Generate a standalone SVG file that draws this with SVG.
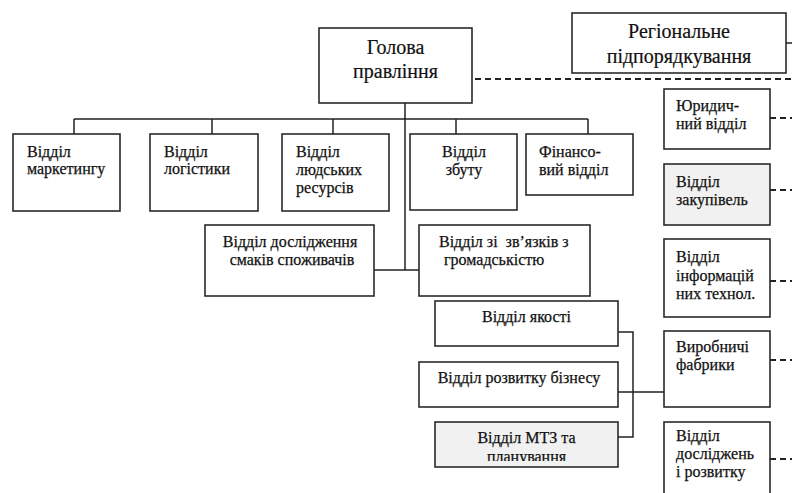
<svg xmlns="http://www.w3.org/2000/svg" width="792" height="493" viewBox="0 0 792 493">
<style>
.b{fill:#fff;stroke:#2a2a2a;stroke-width:1.6}
.g{fill:#f1f1f1;stroke:#2a2a2a;stroke-width:1.6}
.t{font-family:"Liberation Serif","Times New Roman",serif;font-size:16px;fill:#111;stroke:#111;stroke-width:0.25}
.T{font-family:"Liberation Serif","Times New Roman",serif;font-size:20px;fill:#111;stroke:#111;stroke-width:0.2}
.c{text-anchor:middle}
.l{fill:none;stroke:#222;stroke-width:1.5}
.d{fill:none;stroke:#222;stroke-width:2;stroke-dasharray:6 4}
</style>
<defs>
<clipPath id="clipMtz"><rect x="435" y="422" width="183" height="39"/></clipPath>
</defs>
<rect width="792" height="493" fill="#fff"/>
<g id="connectors">
<path class="l" d="M405,103 V270 M74,119 H588 M74,119 V134 M212,119 V134 M333,119 V134 M456,119 V134 M588,119 V134 M374,270 H419"/>
<path class="l" d="M618,332 H633 V437 H618 M618,392 H664 M786,43 H792"/>
<path class="d" d="M465,79 H792 M770,118 H792 M770,190 H792 M770,281 H792 M770,360 H792 M770,459 H792"/>
</g>
<g id="head"><rect class="b" x="319" y="28" width="153" height="75"/>
<text class="T c" x="395.5" y="54">Голова</text><text class="T c" x="395.5" y="78">правління</text></g>
<g id="regional"><rect class="b" x="572" y="13" width="214" height="60"/>
<text class="T c" x="679" y="38">Регіональне</text><text class="T c" x="679" y="63">підпорядкування</text></g>
<g id="marketing"><rect class="b" x="13" y="134" width="107" height="77"/>
<text class="t" x="27" y="157">Відділ</text><text class="t" x="27" y="174">маркетингу</text></g>
<g id="logistics"><rect class="b" x="150" y="134" width="108" height="77"/>
<text class="t" x="164" y="157">Відділ</text><text class="t" x="164" y="174">логістики</text></g>
<g id="hr"><rect class="b" x="282" y="134" width="107" height="77"/>
<text class="t" x="296" y="157">Відділ</text><text class="t" x="296" y="175">людських</text><text class="t" x="296" y="193">ресурсів</text></g>
<g id="sales"><rect class="b" x="410" y="134" width="107" height="76"/>
<text class="t c" x="464" y="157">Відділ</text><text class="t c" x="464" y="175">збуту</text></g>
<g id="finance"><rect class="b" x="526" y="134" width="107" height="61"/>
<text class="t" x="539" y="157">Фінансо-</text><text class="t" x="539" y="175">вий відділ</text></g>
<g id="consumer"><rect class="b" x="205" y="225" width="169" height="71"/>
<text class="t c" x="290" y="247">Відділ дослідження</text><text class="t c" x="292" y="265">смаків споживачів</text></g>
<g id="pr"><rect class="b" x="419" y="225" width="171" height="71"/>
<text class="t" x="439" y="247" xml:space="preserve">Відділ зі  зв’язків з</text><text class="t" x="444" y="265">громадськістю</text></g>
<g id="legal"><rect class="b" x="664" y="89" width="106" height="60"/>
<text class="t" x="676" y="111">Юридич-</text><text class="t" x="676" y="129">ний відділ</text></g>
<g id="procurement"><rect class="g" x="664" y="164" width="106" height="61"/>
<text class="t" x="676" y="187">Відділ</text><text class="t" x="676" y="205">закупівель</text></g>
<g id="it"><rect class="b" x="664" y="239" width="106" height="78"/>
<text class="t" x="676" y="262">Відділ</text><text class="t" x="676" y="281">інформацій</text><text class="t" x="676" y="299">них технол.</text></g>
<g id="factories"><rect class="b" x="664" y="331" width="106" height="76"/>
<text class="t" x="676" y="352">Виробничі</text><text class="t" x="676" y="370">фабрики</text></g>
<g id="rnd"><rect class="b" x="664" y="422" width="106" height="80"/>
<text class="t" x="676" y="441">Відділ</text><text class="t" x="676" y="459">досліджень</text><text class="t" x="676" y="477">і розвитку</text></g>
<g id="quality"><rect class="b" x="435" y="301" width="183" height="45"/>
<text class="t c" x="526.5" y="322">Відділ якості</text></g>
<g id="bizdev"><rect class="b" x="419" y="362" width="199" height="45"/>
<text class="t c" x="519" y="383">Відділ розвитку бізнесу</text></g>
<g id="mtz"><rect class="g" x="435" y="422" width="183" height="45"/>
<text class="t c" x="526.5" y="443">Відділ МТЗ та</text><text class="t c" x="526.5" y="462" clip-path="url(#clipMtz)">планування</text></g>
</svg>
